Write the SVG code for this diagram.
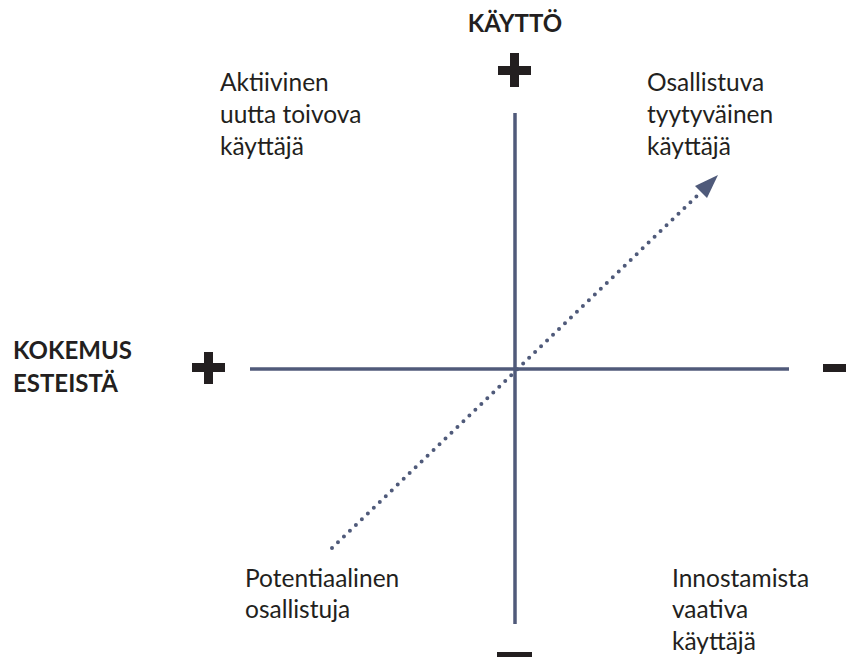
<svg xmlns="http://www.w3.org/2000/svg" width="847" height="657" viewBox="0 0 847 657">
<style>
.axis{stroke:#505a7a;stroke-width:3.5;fill:none}
.dot{stroke:#4f5a7a;stroke-width:4;stroke-linecap:round;stroke-dasharray:0 8.3;fill:none}
.sign{fill:#231f20}
.lbl{font-family:Lato,"Liberation Sans",sans-serif;font-size:24.5px;fill:#231f20}
.ttl{font-family:Lato,"Liberation Sans",sans-serif;font-size:24px;font-weight:bold;fill:#231f20}
</style>
<rect width="847" height="657" fill="#fff"/>
<g id="connectors">
<line class="axis" x1="515" y1="113" x2="515" y2="624"/>
<line class="axis" x1="250" y1="369" x2="789" y2="369"/>
<line class="dot" x1="332" y1="548" x2="699" y2="194"/>
<polygon points="718,175 695,186 707,198" fill="#4f5a7a"/>
</g>
<g id="plus-top"><rect class="sign" x="498" y="66" width="33" height="9"/><rect class="sign" x="510" y="53" width="9" height="34"/></g>
<g id="plus-left"><rect class="sign" x="192" y="363" width="33" height="9"/><rect class="sign" x="204" y="352" width="9" height="32"/></g>
<g id="minus-right"><rect class="sign" x="823" y="364" width="23" height="8"/></g>
<g id="minus-bottom"><rect class="sign" x="497" y="652" width="35" height="6"/></g>
<g id="title-top"><text class="ttl" x="515" y="32" text-anchor="middle">KÄYTTÖ</text></g>
<g id="title-left"><text class="ttl" x="13" y="359">KOKEMUS</text><text class="ttl" x="13" y="392">ESTEISTÄ</text></g>
<g id="q-top-left"><text class="lbl" x="220" y="91">Aktiivinen</text><text class="lbl" x="220" y="123">uutta toivova</text><text class="lbl" x="220" y="155">käyttäjä</text></g>
<g id="q-top-right"><text class="lbl" x="647" y="91">Osallistuva</text><text class="lbl" x="647" y="123">tyytyväinen</text><text class="lbl" x="647" y="155">käyttäjä</text></g>
<g id="q-bottom-left"><text class="lbl" x="245" y="587">Potentiaalinen</text><text class="lbl" x="245" y="618">osallistuja</text></g>
<g id="q-bottom-right"><text class="lbl" x="672" y="587">Innostamista</text><text class="lbl" x="672" y="618">vaativa</text><text class="lbl" x="672" y="650">käyttäjä</text></g>
</svg>
